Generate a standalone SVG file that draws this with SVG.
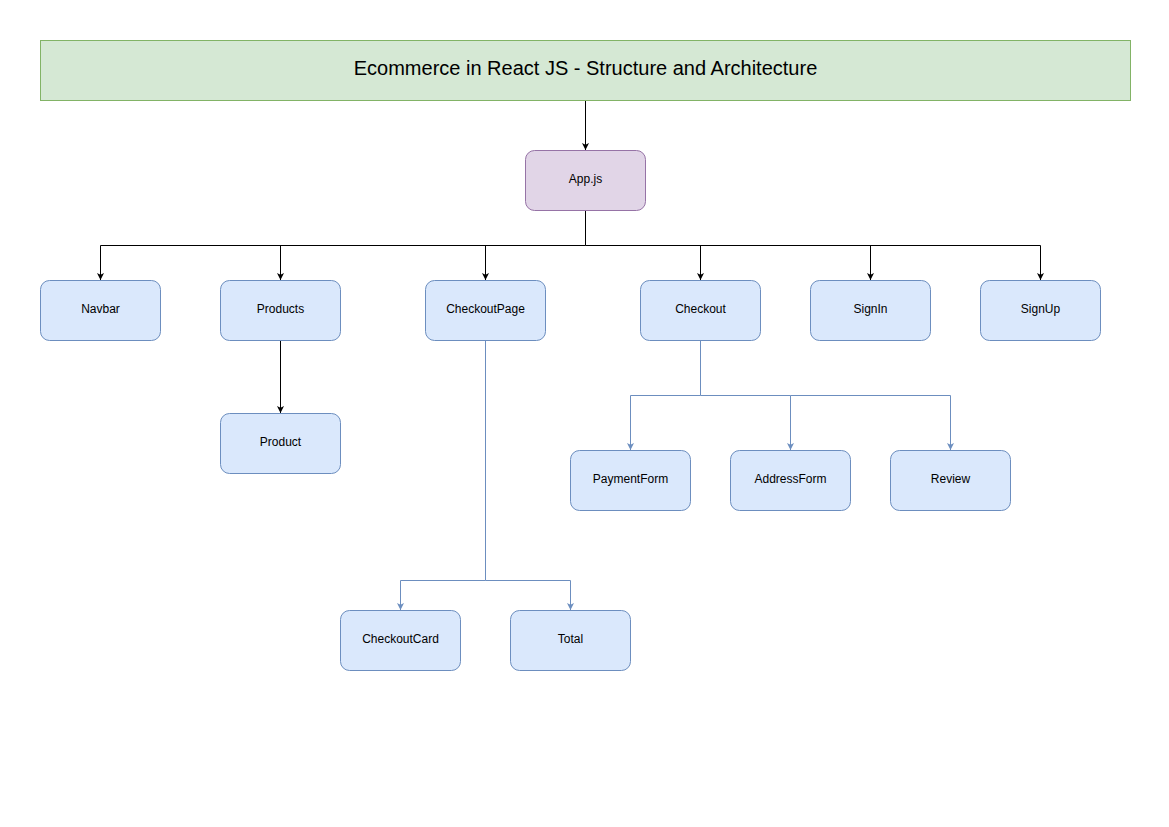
<svg xmlns="http://www.w3.org/2000/svg" width="1169" height="827" viewBox="0 0 1169 827">
<style>
.n{fill:#dae8fc;stroke:#6c8ebf;stroke-width:1}
.p{fill:#e1d5e7;stroke:#9673a6;stroke-width:1}
.t{font-family:"Liberation Sans",Arial,sans-serif;font-size:12px;fill:#000;text-anchor:middle;dominant-baseline:central}
.k{fill:none;stroke:#000;stroke-width:1}
.b{fill:none;stroke:#6c8ebf;stroke-width:1}
</style>
<defs>
<marker id="ak" markerWidth="8" markerHeight="8" refX="7" refY="4" orient="auto" markerUnits="userSpaceOnUse"><path d="M0,0.5 L7,4 L0,7.5 L1.8,4 Z" fill="#000"/></marker>
<marker id="ab" markerWidth="8" markerHeight="8" refX="7" refY="4" orient="auto" markerUnits="userSpaceOnUse"><path d="M0,0.5 L7,4 L0,7.5 L1.8,4 Z" fill="#6c8ebf"/></marker>
</defs>
<rect width="1169" height="827" fill="#fff"/>
<g id="connectors">
<path class="k" d="M585.5,100.5 V150" marker-end="url(#ak)"/>
<path class="k" d="M585.5,210.5 V245.5 H100.5 V280" marker-end="url(#ak)"/>
<path class="k" d="M280.5,245.5 V280" marker-end="url(#ak)"/>
<path class="k" d="M485.5,245.5 V280" marker-end="url(#ak)"/>
<path class="k" d="M585.5,245.5 H1040.5 V280" marker-end="url(#ak)"/>
<path class="k" d="M700.5,245.5 V280" marker-end="url(#ak)"/>
<path class="k" d="M870.5,245.5 V280" marker-end="url(#ak)"/>
<path class="k" d="M280.5,340.5 V413" marker-end="url(#ak)"/>
<path class="b" d="M700.5,340.5 V395.5 H630.5 V450" marker-end="url(#ab)"/>
<path class="b" d="M700.5,395.5 H790.5 V450" marker-end="url(#ab)"/>
<path class="b" d="M790.5,395.5 H950.5 V450" marker-end="url(#ab)"/>
<path class="b" d="M485.5,340.5 V580.5 H400.5 V610" marker-end="url(#ab)"/>
<path class="b" d="M485.5,580.5 H570.5 V610" marker-end="url(#ab)"/>
</g>
<g id="title"><rect x="40.5" y="40.5" width="1090" height="60" fill="#d5e8d4" stroke="#82b366"/><text class="t" x="585.5" y="67.5" style="font-size:20px">Ecommerce in React JS - Structure and Architecture</text></g>
<g id="app"><rect class="p" x="525.5" y="150.5" width="120" height="60" rx="9"/><text class="t" x="585.5" y="178.5">App.js</text></g>
<g id="navbar"><rect class="n" x="40.5" y="280.5" width="120" height="60" rx="9"/><text class="t" x="100.5" y="308.5">Navbar</text></g>
<g id="products"><rect class="n" x="220.5" y="280.5" width="120" height="60" rx="9"/><text class="t" x="280.5" y="308.5">Products</text></g>
<g id="checkoutpage"><rect class="n" x="425.5" y="280.5" width="120" height="60" rx="9"/><text class="t" x="485.5" y="308.5">CheckoutPage</text></g>
<g id="checkout"><rect class="n" x="640.5" y="280.5" width="120" height="60" rx="9"/><text class="t" x="700.5" y="308.5">Checkout</text></g>
<g id="signin"><rect class="n" x="810.5" y="280.5" width="120" height="60" rx="9"/><text class="t" x="870.5" y="308.5">SignIn</text></g>
<g id="signup"><rect class="n" x="980.5" y="280.5" width="120" height="60" rx="9"/><text class="t" x="1040.5" y="308.5">SignUp</text></g>
<g id="product"><rect class="n" x="220.5" y="413.5" width="120" height="60" rx="9"/><text class="t" x="280.5" y="441.5">Product</text></g>
<g id="paymentform"><rect class="n" x="570.5" y="450.5" width="120" height="60" rx="9"/><text class="t" x="630.5" y="478.5">PaymentForm</text></g>
<g id="addressform"><rect class="n" x="730.5" y="450.5" width="120" height="60" rx="9"/><text class="t" x="790.5" y="478.5">AddressForm</text></g>
<g id="review"><rect class="n" x="890.5" y="450.5" width="120" height="60" rx="9"/><text class="t" x="950.5" y="478.5">Review</text></g>
<g id="checkoutcard"><rect class="n" x="340.5" y="610.5" width="120" height="60" rx="9"/><text class="t" x="400.5" y="638.5">CheckoutCard</text></g>
<g id="total"><rect class="n" x="510.5" y="610.5" width="120" height="60" rx="9"/><text class="t" x="570.5" y="638.5">Total</text></g>
</svg>
